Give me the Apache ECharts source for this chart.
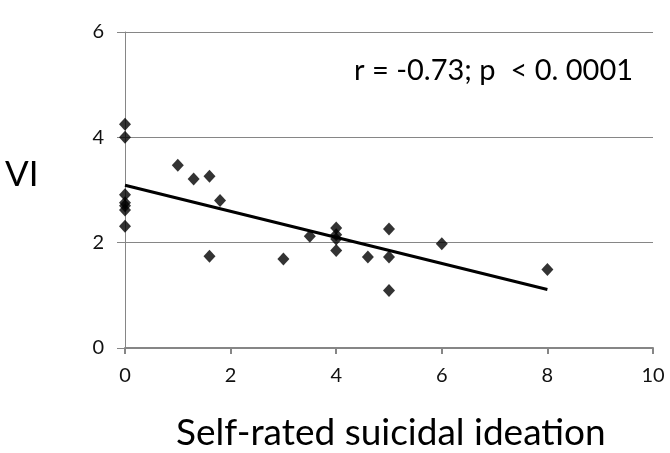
<!DOCTYPE html>
<html><head><meta charset="utf-8">
<script src="https://cdn.jsdelivr.net/npm/echarts@6/dist/echarts.min.js"></script>
<style>html,body{margin:0;padding:0;background:#fff}#c{width:670px;height:453px}</style>
</head><body><div id="c"></div>
<script>
const xValues = [0, 0, 0, 0, 0, 0, 0, 1.0, 1.3, 1.6, 1.8, 1.6, 3.0, 3.5, 4.0, 4.0, 4.0, 4.0, 4.6, 5.0, 5.0, 5.0, 6.0, 8.0];
const yValues = [4.25, 4.0, 2.91, 2.76, 2.70, 2.62, 2.31, 3.47, 3.21, 3.26, 2.80, 1.74, 1.69, 2.12, 2.28, 2.15, 2.07, 1.85, 1.73, 2.26, 1.73, 1.09, 1.98, 1.49];
const trendX = [0, 8];
const trendY = [3.09, 1.11];
const xTicks = [0, 2, 4, 6, 8, 10];
const yTicks = [0, 2, 4, 6];
const annotation = 'r = -0.73; p  < 0. 0001';
const xTitle = 'Self-rated suicidal ideation';
const yTitle = 'VI';

const font = 'Lato, "Open Sans", sans-serif';
const chart = echarts.init(document.getElementById('c'), null, {renderer: 'canvas'});
chart.setOption({
  animation: false,
  backgroundColor: '#fff',
  grid: {left: 125, right: 17, top: 32, bottom: 105, containLabel: false},
  xAxis: {
    type: 'value', min: xTicks[0], max: xTicks[xTicks.length - 1], interval: 2,
    axisLine: {show: true, lineStyle: {color: '#868686', width: 2}},
    axisTick: {show: true, length: 6, lineStyle: {color: '#868686', width: 2}},
    axisLabel: {color: '#111', fontSize: 20, fontFamily: font, margin: 18},
    splitLine: {show: false}
  },
  yAxis: {
    type: 'value', min: yTicks[0], max: yTicks[yTicks.length - 1], interval: 2,
    axisLine: {show: true, lineStyle: {color: '#868686', width: 1}},
    axisTick: {show: true, length: 8, lineStyle: {color: '#868686', width: 1}},
    axisLabel: {color: '#111', fontSize: 20, fontFamily: font, margin: 21},
    splitLine: {show: true, lineStyle: {color: '#868686', width: 1}}
  },
  graphic: [
    {type: 'text', left: 354, top: 56, style: {text: annotation, fontSize: 29, fontFamily: font, fill: '#000'}},
    {type: 'text', left: 5, top: 157, style: {text: yTitle, fontSize: 35, fontFamily: font, fill: '#000'}},
    {type: 'text', left: 176, top: 415, style: {text: xTitle, fontSize: 37, fontFamily: font, fill: '#000'}}
  ],
  series: [
    {
      type: 'scatter', symbol: 'diamond', symbolSize: [12, 13],
      itemStyle: {color: '#000'},
      data: xValues.map((x, i) => [x, yValues[i]]),
      z: 3
    },
    {
      type: 'line', symbol: 'none',
      lineStyle: {color: '#000', width: 3},
      data: trendX.map((x, i) => [x, trendY[i]]),
      z: 2
    }
  ]
});
</script></body></html>
